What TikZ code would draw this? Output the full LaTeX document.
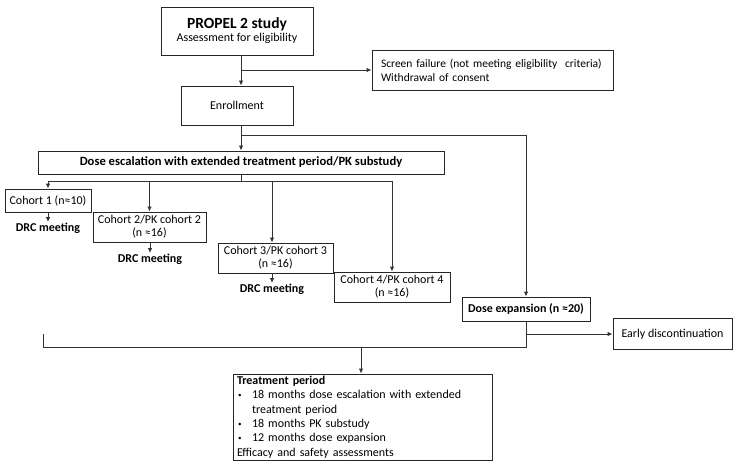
\documentclass[tikz,border=0pt]{standalone}
\usepackage{fontspec}
\setmainfont{Carlito}
\usetikzlibrary{arrows.meta}
\begin{document}
\begin{tikzpicture}[x=1pt,y=-1pt,
  box/.style={draw=black!85, line width=0.9pt, inner sep=0pt, font=\fontsize{12}{13}\selectfont, align=center},
  lbl/.style={inner sep=1pt, font=\bfseries\fontsize{12}{13}\selectfont},
  conn/.style={draw=black!80, line width=0.9pt},
  arr/.style={conn, -{Latex[length=5pt,width=4.5pt]}}]
\newcommand{\smbul}{\makebox[15pt][l]{\hspace{1pt}\raisebox{0.25ex}{\fontsize{7}{7}\selectfont\textbullet}}}
\useasboundingbox (0,0) rectangle (738,465);
\coordinate (sp) at (241,0);
% boxes
\node[box, minimum width=152pt, minimum height=48pt] (propel) at (237,31)
  {{\bfseries\fontsize{15.5}{17}\selectfont PROPEL 2 study}\\[0pt]Assessment for eligibility};
\node[box, minimum width=241pt, minimum height=40pt, text width=223pt, align=left, font=\fontsize{11.5}{14}\selectfont] (screen) at (492.5,70)
  {Screen failure (not meeting eligibility\ \ criteria)\\Withdrawal of consent};
\node[box, minimum width=112pt, minimum height=39pt] (enroll) at (237,105.5) {Enrollment};
\node[box, minimum width=406pt, minimum height=23pt, font=\bfseries\fontsize{12.6}{13}\selectfont] (esc) at (241,162.5)
  {Dose escalation with extended treatment period/PK substudy};
\node[box, minimum width=86pt, minimum height=23pt] (c1) at (48,200.5) {Cohort 1 (n≈10)};
\node[box, minimum width=113pt, minimum height=30pt] (c2) at (149.5,227) {Cohort 2/PK cohort 2\\(n ≈16)};
\node[box, minimum width=115pt, minimum height=30pt] (c3) at (275.5,258) {Cohort 3/PK cohort 3\\(n ≈16)};
\node[box, minimum width=116pt, minimum height=30pt] (c4) at (392,287) {Cohort 4/PK cohort 4\\(n ≈16)};
\node[lbl] (d1) at (48,228.5) {DRC meeting};
\node[lbl] (d2) at (150,259.5) {DRC meeting};
\node[lbl] (d3) at (272,289.5) {DRC meeting};
\node[box, minimum width=128pt, minimum height=24pt, font=\bfseries\fontsize{12}{13}\selectfont] (exp) at (526,309) {Dose expansion (n ≈20)};
\node[box, minimum width=119pt, minimum height=31pt] (early) at (672.5,334) {Early discontinuation};
\node[box, minimum width=259pt, minimum height=86pt, text width=251pt, align=left, font=\fontsize{12}{14.4}\selectfont] (treat) at (362.5,417)
  {\textbf{Treatment period}\\
   \smbul 18 months dose escalation with extended\\
   \hspace*{15pt}treatment period\\
   \smbul 18 months PK substudy\\
   \smbul 12 months dose expansion\\
   Efficacy and safety assessments};
% coordinates
\coordinate (b1) at (241,70);
\coordinate (b2) at (241,135);
\coordinate (h0) at (241,181);
\coordinate (hl) at (48,181);
\coordinate (k3) at (272,0);
\coordinate (m0) at (526,347);
\coordinate (m1) at (526,334);
\coordinate (ml) at (43,347);
\coordinate (mu) at (43,334);
\coordinate (t0) at (361,347);
% connectors
\draw[arr] (propel.south -| sp) -- (enroll.north -| sp);
\draw[arr] (b1) -- (screen.west |- b1);
\draw[arr] (enroll.south -| sp) -- (esc.north -| sp);
\draw[arr] (b2) -| (exp.north);
\draw[conn] (esc.south -| sp) -- (h0);
\draw[conn] (hl) -- (c4.north |- h0);
\draw[arr] (hl) -- (c1.north);
\draw[arr] (h0 -| c2.north) -- (c2.north);
\draw[arr] (h0 -| k3) -- (c3.north -| k3);
\draw[arr] (h0 -| c4.north) -- (c4.north);
\draw[arr] (c1.south) -- (d1.north);
\draw[arr] (c2.south -| d2) -- (d2.north);
\draw[arr] (c3.south -| d3) -- (d3.north);
\draw[conn] (exp.south) -- (m0) -- (ml) -- (mu);
\draw[arr] (m1) -- (early.west |- m1);
\draw[arr] (t0) -- (treat.north -| t0);
\end{tikzpicture}
\end{document}
